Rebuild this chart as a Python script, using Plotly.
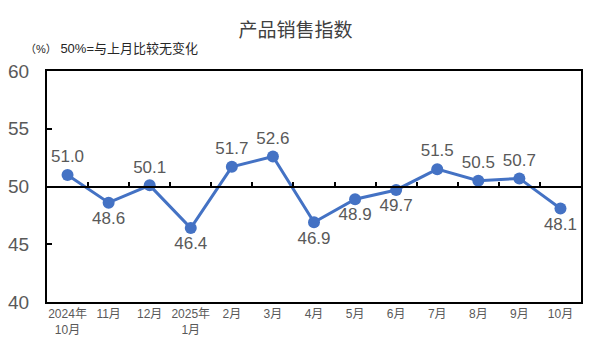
import plotly.graph_objects as go

categories = ["2024年<br>10月", "11月", "12月", "2025年<br>1月", "2月", "3月", "4月",
              "5月", "6月", "7月", "8月", "9月", "10月"]
values = [51.0, 48.6, 50.1, 46.4, 51.7, 52.6, 46.9, 48.9, 49.7, 51.5, 50.5, 50.7, 48.1]
label_pos = ["top center", "bottom center", "top center", "bottom center", "top center",
             "top center", "bottom center", "bottom center", "bottom center", "top center",
             "top center", "top center", "bottom center"]
y_ticks = [40, 45, 50, 55, 60]
title_text = "产品销售指数"
note_text = "<span style='font-size:11px'>（%）</span> 50%=与上月比较无变化"

FONT = "Liberation Sans, Noto Sans CJK SC, sans-serif"
GRAY = "#595959"
BLUE = "#4472C4"

fig = go.Figure()
fig.add_trace(go.Scatter(
    x=categories, y=values, mode="lines+markers+text",
    line=dict(color=BLUE, width=3),
    marker=dict(color=BLUE, size=12),
    text=[f"{v:.1f}" for v in values],
    textposition=label_pos,
    textfont=dict(family=FONT, size=17, color=GRAY),
    cliponaxis=False,
    xaxis="x", yaxis="y",
))
# invisible trace to activate the 50-baseline axis
fig.add_trace(go.Scatter(x=categories, y=values, mode="none", xaxis="x2", yaxis="y",
                         showlegend=False, hoverinfo="skip"))

ydom = [0, 1]
yr = [40, 60]
xr = [-0.5, len(categories) - 0.5]
base_pos = ydom[0] + (50 - yr[0]) / (yr[1] - yr[0]) * (ydom[1] - ydom[0])

fig.update_layout(
    width=591, height=354,
    margin=dict(l=47, r=10, t=71, b=52),
    paper_bgcolor="white", plot_bgcolor="white",
    showlegend=False,
    title=dict(text=title_text, x=0.5, xanchor="center", y=0.915, yanchor="middle",
               font=dict(family=FONT, size=19, color="#404040")),
    xaxis=dict(type="category", range=xr, showgrid=False, showline=True, linecolor="black",
               linewidth=2, mirror=True, ticks="", zeroline=False, automargin=False,
               tickfont=dict(family=FONT, size=12, color=GRAY)),
    xaxis2=dict(type="category", range=xr, overlaying="x", anchor="free", position=base_pos,
                side="bottom", showline=True, linecolor="black", linewidth=2,
                ticks="inside", ticklen=4, tickwidth=1.5, tickcolor="black",
                tickson="boundaries", showticklabels=False, showgrid=False,
                automargin=False),
    yaxis=dict(range=yr, domain=ydom, tickvals=y_ticks, showgrid=False, zeroline=False,
               showline=True, linecolor="black", linewidth=2, mirror=True,
               ticks="inside", ticklen=5, tickwidth=1.5, tickcolor="black",
               ticklabelstandoff=12, automargin=False,
               tickfont=dict(family=FONT, size=19, color=GRAY)),
    annotations=[dict(text=note_text, xref="paper", yref="paper", x=-0.045, y=1.055,
                      xanchor="left", yanchor="bottom", showarrow=False,
                      font=dict(family=FONT, size=13, color="#262626"))],
)

fig.write_html("out.html")
